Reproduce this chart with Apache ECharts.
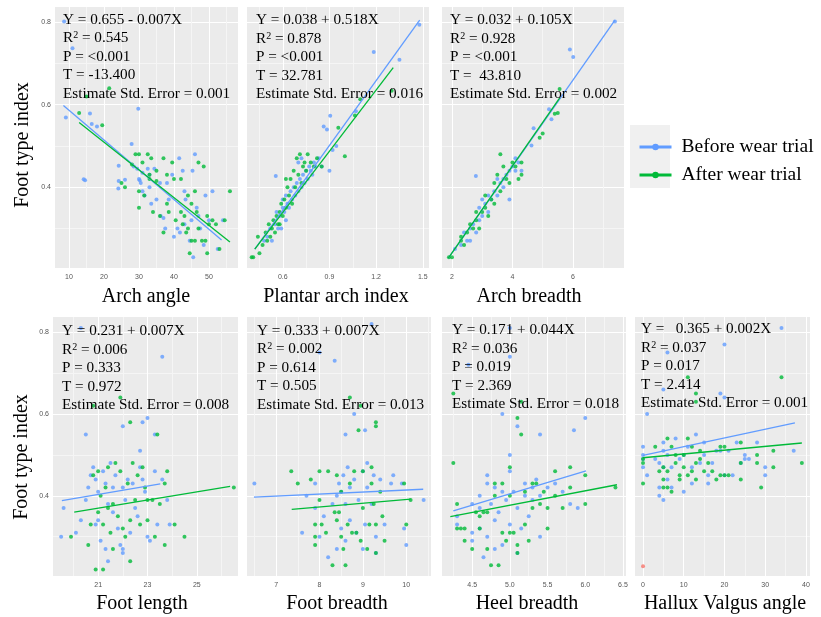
<!DOCTYPE html>
<html>
<head>
<meta charset="utf-8">
<title>Foot type index</title>
<script src="https://cdn.jsdelivr.net/npm/echarts@6/dist/echarts.min.js"></script>
<style>
html,body{margin:0;padding:0;background:#fff}
#main{width:821px;height:617px}
</style>
</head>
<body>
<div id="main"></div>
<script>
// ---- data ----
var archAngleBefore = [[8.6,0.802],[11,0.737],[9.1,0.569],[16,0.579],[16.5,0.553],[18,0.547],[29.8,0.59],[27.9,0.505],[14.2,0.419],[14.6,0.417],[24.2,0.452],[24.2,0.415],[24.1,0.397],[26,0.418],[28.5,0.45],[29.5,0.445],[30.2,0.417],[30.5,0.41],[31,0.435],[31.6,0.38],[32.5,0.445],[33,0.4],[33.5,0.36],[34.4,0.445],[35,0.37],[36,0.41],[36.2,0.33],[37,0.325],[37.5,0.3],[38.5,0.37],[39.5,0.43],[40,0.28],[41.5,0.47],[41.7,0.29],[42.5,0.44],[43,0.39],[43.3,0.37],[44.5,0.27],[45,0.32],[45.3,0.44],[45.5,0.23],[46,0.48],[46.5,0.35],[47.5,0.3],[48.5,0.26],[49,0.38],[50,0.32],[51,0.39],[52.5,0.25],[54,0.32],[31,0.39],[33,0.43],[30,0.42],[43,0.31],[47,0.33],[41,0.3],[38,0.41]];
var archAngleAfter = [[12.9,0.58],[19.5,0.55],[21.5,0.64],[15,0.62],[25,0.41],[26,0.4],[28,0.455],[29,0.48],[30,0.48],[30,0.39],[30,0.35],[31,0.46],[31.5,0.38],[32.5,0.48],[33,0.43],[33.5,0.47],[34,0.34],[35,0.415],[36,0.33],[37,0.47],[37,0.29],[38,0.43],[38.5,0.34],[39.5,0.46],[40,0.42],[40.5,0.32],[42,0.42],[42,0.34],[42.5,0.31],[43,0.33],[43.5,0.29],[44,0.38],[44.5,0.24],[45,0.36],[45,0.27],[46,0.39],[46.5,0.34],[47,0.46],[47,0.3],[48,0.27],[48.5,0.45],[49,0.27],[49.5,0.33],[49.5,0.24],[50,0.31],[51,0.32],[52,0.31],[53,0.25],[54.5,0.32],[56,0.39],[44,0.3],[46,0.27],[38,0.36],[33,0.42],[35,0.44]];
var archAngleFitBefore = [[8.4,0.598],[53.6,0.272]];
var archAngleFitAfter = [[12.9,0.557],[56,0.267]];

var plantarBefore = [[1.478,0.794],[1.185,0.728],[1.35,0.709],[0.905,0.573],[0.863,0.547],[0.884,0.54],[0.944,0.5],[0.555,0.427],[1.07,0.584],[0.48,0.27],[0.5,0.28],[0.52,0.3],[0.53,0.27],[0.55,0.31],[0.57,0.3],[0.58,0.33],[0.6,0.35],[0.6,0.37],[0.61,0.34],[0.62,0.32],[0.62,0.38],[0.63,0.36],[0.64,0.35],[0.65,0.39],[0.66,0.37],[0.67,0.4],[0.68,0.38],[0.69,0.41],[0.7,0.39],[0.71,0.42],[0.72,0.4],[0.73,0.43],[0.74,0.41],[0.75,0.44],[0.76,0.42],[0.77,0.45],[0.78,0.44],[0.79,0.43],[0.8,0.46],[0.81,0.45],[0.83,0.47],[0.85,0.45],[0.9,0.44],[0.92,0.49],[0.7,0.46],[0.72,0.47],[0.56,0.34],[0.59,0.3]];
var plantarAfter = [[0.4,0.23],[0.41,0.23],[0.45,0.24],[0.44,0.28],[0.47,0.26],[0.49,0.29],[0.5,0.27],[0.51,0.31],[0.52,0.28],[0.53,0.3],[0.54,0.32],[0.55,0.29],[0.56,0.33],[0.57,0.31],[0.58,0.34],[0.59,0.36],[0.6,0.33],[0.61,0.37],[0.62,0.35],[0.63,0.4],[0.64,0.38],[0.65,0.42],[0.66,0.36],[0.67,0.44],[0.68,0.4],[0.69,0.47],[0.7,0.43],[0.71,0.48],[0.72,0.41],[0.73,0.45],[0.74,0.46],[0.75,0.44],[0.76,0.48],[0.78,0.46],[0.8,0.45],[0.82,0.47],[0.85,0.45],[0.957,0.544],[0.999,0.475],[1.064,0.574],[1.098,0.613],[1.3,0.634],[0.62,0.42],[0.58,0.31]];
var plantarFitBefore = [[0.42,0.25],[1.48,0.805]];
var plantarFitAfter = [[0.42,0.25],[1.31,0.69]];

var archBreadthBefore = [[7.39,0.802],[5.9,0.734],[6.01,0.716],[5.21,0.589],[5.29,0.565],[4.7,0.543],[4.63,0.501],[2.79,0.427],[2.1,0.25],[2.3,0.26],[2.4,0.29],[2.5,0.27],[2.6,0.3],[2.7,0.31],[2.8,0.29],[2.9,0.32],[2.9,0.35],[3.0,0.33],[3.1,0.36],[3.2,0.34],[3.2,0.38],[3.3,0.37],[3.4,0.39],[3.5,0.38],[3.6,0.41],[3.7,0.42],[3.7,0.4],[3.8,0.43],[3.9,0.44],[4.0,0.45],[4.1,0.47],[4.1,0.44],[4.2,0.46],[4.3,0.44],[3.5,0.42],[3.9,0.37],[2.6,0.27],[3.0,0.37]];
var archBreadthAfter = [[1.9,0.23],[2.0,0.23],[2.3,0.27],[2.3,0.28],[2.4,0.26],[2.5,0.29],[2.6,0.31],[2.7,0.3],[2.8,0.32],[2.9,0.3],[3.0,0.34],[3.1,0.35],[3.2,0.33],[3.3,0.37],[3.4,0.36],[3.4,0.41],[3.5,0.43],[3.6,0.39],[3.7,0.45],[3.8,0.42],[3.9,0.41],[4.0,0.46],[4.1,0.45],[4.2,0.42],[4.3,0.46],[3.6,0.48],[3.1,0.38],[2.8,0.34],[4.9,0.52],[5.0,0.53],[5.4,0.578],[5.56,0.638],[5.5,0.58],[4.3,0.43]];
var archBreadthFitBefore = [[1.88,0.228],[7.39,0.805]];
var archBreadthFitAfter = [[1.88,0.228],[5.57,0.617]];

var footLengthBefore = [[19.5,0.3],[19.6,0.37],[20.1,0.31],[20.3,0.34],[20.5,0.39],[20.6,0.42],[20.7,0.45],[20.8,0.47],[20.9,0.44],[20.9,0.33],[21.0,0.41],[21.0,0.34],[21.1,0.29],[21.2,0.46],[21.3,0.43],[21.3,0.27],[21.4,0.38],[21.5,0.48],[21.6,0.42],[21.6,0.36],[21.7,0.45],[21.8,0.32],[21.9,0.28],[22.0,0.42],[22.0,0.26],[22.1,0.39],[22.2,0.44],[22.3,0.31],[22.4,0.43],[22.5,0.37],[22.6,0.35],[22.7,0.47],[22.8,0.44],[22.9,0.41],[23.0,0.3],[23.1,0.29],[23.3,0.46],[23.4,0.33],[23.6,0.44],[23.8,0.39],[23.9,0.33],[20.5,0.55],[22.0,0.57],[22.8,0.58],[23.0,0.59],[23.3,0.55],[22.7,0.51],[23.6,0.74],[20.3,0.81],[21.4,0.24],[22.0,0.27]];
var footLengthAfter = [[19.9,0.3],[20.6,0.28],[20.7,0.33],[20.8,0.45],[20.9,0.22],[21.0,0.36],[21.0,0.46],[21.1,0.4],[21.2,0.22],[21.2,0.33],[21.3,0.42],[21.4,0.37],[21.4,0.47],[21.5,0.31],[21.6,0.38],[21.6,0.27],[21.7,0.48],[21.8,0.35],[21.9,0.46],[22.0,0.32],[22.1,0.3],[22.2,0.43],[22.3,0.34],[22.3,0.24],[22.4,0.48],[22.5,0.39],[22.6,0.45],[22.7,0.33],[22.8,0.47],[22.9,0.42],[23.0,0.34],[23.0,0.39],[23.2,0.39],[23.3,0.3],[23.5,0.38],[23.7,0.43],[23.8,0.46],[23.7,0.28],[24.1,0.33],[24.5,0.3],[26.5,0.42],[22.3,0.58],[23.4,0.55],[21.9,0.64],[20.8,0.62]];
var footLengthFitBefore = [[19.53,0.388],[23.52,0.429]];
var footLengthFitAfter = [[20.03,0.36],[26.35,0.423]];

var footBreadthBefore = [[6.5,0.43],[7.6,0.31],[7.7,0.4],[7.9,0.37],[7.9,0.43],[8.0,0.3],[8.1,0.35],[8.2,0.25],[8.3,0.38],[8.4,0.4],[8.4,0.27],[8.45,0.43],[8.5,0.41],[8.5,0.32],[8.55,0.45],[8.6,0.38],[8.6,0.29],[8.65,0.47],[8.7,0.42],[8.7,0.34],[8.8,0.44],[8.85,0.31],[8.9,0.39],[9.0,0.46],[9.0,0.27],[9.05,0.33],[9.1,0.48],[9.1,0.42],[9.2,0.38],[9.25,0.45],[9.3,0.3],[9.3,0.26],[9.4,0.44],[9.5,0.33],[9.65,0.43],[9.7,0.45],[9.9,0.43],[9.95,0.32],[10.0,0.28],[10.4,0.39],[8.0,0.75],[8.35,0.73],[9.2,0.82],[8.8,0.6],[8.6,0.55],[9.05,0.56]];
var footBreadthAfter = [[7.35,0.46],[7.5,0.43],[7.8,0.44],[7.9,0.33],[7.9,0.3],[7.9,0.28],[8.0,0.46],[8.0,0.39],[8.05,0.33],[8.15,0.31],[8.2,0.46],[8.3,0.23],[8.35,0.36],[8.4,0.45],[8.4,0.34],[8.45,0.36],[8.5,0.41],[8.5,0.3],[8.55,0.27],[8.6,0.23],[8.65,0.33],[8.7,0.43],[8.75,0.31],[8.8,0.46],[8.85,0.31],[8.9,0.56],[8.95,0.29],[9.0,0.46],[9.0,0.37],[9.1,0.27],[9.15,0.33],[9.2,0.47],[9.2,0.43],[9.25,0.38],[9.3,0.58],[9.3,0.57],[9.3,0.33],[9.3,0.26],[9.4,0.41],[9.45,0.35],[9.5,0.29],[9.95,0.43],[10.0,0.33],[10.1,0.39],[8.7,0.64],[8.95,0.62]];
var footBreadthFitBefore = [[6.49,0.397],[10.39,0.416]];
var footBreadthFitAfter = [[7.36,0.367],[10.1,0.392]];

var heelBreadthBefore = [[4.3,0.35],[4.3,0.33],[4.5,0.38],[4.5,0.31],[4.5,0.29],[4.6,0.4],[4.6,0.37],[4.6,0.32],[4.65,0.25],[4.7,0.45],[4.7,0.43],[4.7,0.3],[4.75,0.38],[4.8,0.42],[4.8,0.34],[4.8,0.27],[4.85,0.36],[4.9,0.41],[4.9,0.28],[4.95,0.39],[5.0,0.5],[5.0,0.46],[5.0,0.33],[5.05,0.41],[5.1,0.37],[5.1,0.26],[5.15,0.32],[5.2,0.43],[5.2,0.4],[5.25,0.35],[5.3,0.42],[5.3,0.39],[5.35,0.44],[5.4,0.4],[5.4,0.3],[5.5,0.42],[5.6,0.43],[5.7,0.41],[5.8,0.38],[5.85,0.56],[5.9,0.37],[6.0,0.59],[5.4,0.55],[5.1,0.57],[4.9,0.6],[4.45,0.72],[5.0,0.74],[5.0,0.81]];
var heelBreadthAfter = [[4.25,0.48],[4.25,0.65],[4.3,0.38],[4.3,0.32],[4.35,0.32],[4.4,0.32],[4.4,0.29],[4.5,0.27],[4.55,0.36],[4.6,0.35],[4.6,0.32],[4.65,0.36],[4.7,0.27],[4.7,0.36],[4.75,0.23],[4.8,0.43],[4.8,0.4],[4.85,0.23],[4.9,0.31],[4.9,0.43],[4.95,0.29],[5.0,0.47],[5.0,0.4],[5.0,0.31],[5.05,0.31],[5.1,0.28],[5.1,0.26],[5.1,0.59],[5.15,0.55],[5.2,0.41],[5.2,0.33],[5.25,0.29],[5.3,0.43],[5.3,0.37],[5.35,0.43],[5.4,0.38],[5.45,0.41],[5.5,0.37],[5.5,0.32],[5.6,0.4],[5.6,0.46],[5.7,0.37],[5.8,0.47],[5.8,0.42],[6.0,0.45],[6.0,0.38],[6.4,0.42],[5.15,0.63]];
var heelBreadthFitBefore = [[4.25,0.363],[6.01,0.461]];
var heelBreadthFitAfter = [[4.21,0.349],[6.42,0.427]];

var halluxBefore = [[0,0.52],[0,0.5],[0,0.49],[0,0.47],[1,0.45],[3,0.49],[4,0.48],[4,0.42],[4,0.4],[5,0.53],[5,0.51],[5,0.47],[5,0.39],[6,0.44],[6,0.5],[7,0.47],[7,0.42],[8,0.54],[9,0.49],[10,0.5],[10,0.41],[11,0.52],[12,0.47],[12,0.43],[13,0.55],[14,0.48],[15,0.53],[15,0.5],[16,0.45],[16,0.43],[17,0.48],[18,0.51],[19,0.51],[20,0.45],[21,0.51],[22,0.45],[23,0.53],[24,0.48],[25,0.5],[25,0.49],[26,0.49],[28,0.53],[30,0.47],[30,0.45],[37,0.51],[1,0.6],[5,0.66],[6,0.75],[19,0.65],[20,0.64],[20,0.77],[34,0.81]];
var halluxAfter = [[0,0.49],[0,0.48],[0,0.43],[3,0.52],[4,0.46],[5,0.47],[5,0.44],[5,0.42],[6,0.54],[6,0.46],[6,0.42],[7,0.52],[7,0.41],[8,0.5],[8,0.48],[9,0.45],[9,0.44],[10,0.5],[10,0.47],[11,0.54],[11,0.45],[12,0.52],[12,0.46],[13,0.48],[13,0.44],[14,0.51],[14,0.49],[15,0.46],[16,0.48],[17,0.46],[18,0.44],[19,0.52],[19,0.45],[20,0.52],[20,0.45],[21,0.45],[24,0.53],[24,0.48],[24,0.44],[28,0.48],[28,0.5],[29,0.42],[32,0.51],[32,0.47],[39,0.48],[11,0.69],[13,0.63],[13,0.65],[34,0.69]];
var halluxOther = [[0,0.228]];
var halluxFitBefore = [[0,0.499],[37.3,0.578]];
var halluxFitAfter = [[0,0.493],[39,0.529]];

// tick values
var yTicks = [0.3,0.4,0.5,0.6,0.7,0.8];
var yMajor = [0.4,0.6,0.8];

var FONT = '"Liberation Serif", "Times New Roman", serif';
var BLUE = '#619CFF', GREEN = '#00BA38', RED = '#F8766D';

var panels = [
	{title:'Arch angle', before:archAngleBefore, after:archAngleAfter, fitB:archAngleFitBefore, fitA:archAngleFitAfter,
	 stats:['Y = 0.655 - 0.007X','0.545','P = <0.001','T = -13.400','Estimate Std. Error = 0.001'],
	 xMin:6.0, xMax:58.3, xTicks:[10,15,20,25,30,35,40,45,50,55], xMajor:[10,20,30,40,50], dec:0,
	 grid:[55,7,183,261], text:[63,20], tpos:[146,297], yLab:true},
	{title:'Plantar arch index', before:plantarBefore, after:plantarAfter, fitB:plantarFitBefore, fitA:plantarFitAfter,
	 stats:['Y = 0.038 + 0.518X','0.878','P = <0.001','T = 32.781','Estimate Std. Error = 0.016'],
	 xMin:0.37, xMax:1.54, xTicks:[0.45,0.6,0.75,0.9,1.05,1.2,1.35,1.5], xMajor:[0.6,0.9,1.2,1.5], dec:1,
	 grid:[247,7,182,261], text:[256,20.5], tpos:[336,297]},
	{title:'Arch breadth', before:archBreadthBefore, after:archBreadthAfter, fitB:archBreadthFitBefore, fitA:archBreadthFitAfter,
	 stats:['Y = 0.032 + 0.105X','0.928','P = <0.001','T =  43.810','Estimate Std. Error = 0.002'],
	 xMin:1.67, xMax:7.69, xTicks:[2,3,4,5,6,7], xMajor:[2,4,6], dec:0,
	 grid:[442,7,182,261], text:[450,20.5], tpos:[529,297]},
	{title:'Foot length', before:footLengthBefore, after:footLengthAfter, fitB:footLengthFitBefore, fitA:footLengthFitAfter,
	 stats:['Y = 0.231 + 0.007X','0.006','P = 0.333','T = 0.972','Estimate Std. Error = 0.008'],
	 xMin:19.17, xMax:26.67, xTicks:[20,21,22,23,24,25,26], xMajor:[21,23,25], dec:0,
	 grid:[53,317,185,259], text:[62,331.5], tpos:[142,604], yLab:true},
	{title:'Foot breadth', before:footBreadthBefore, after:footBreadthAfter, fitB:footBreadthFitBefore, fitA:footBreadthFitAfter,
	 stats:['Y = 0.333 + 0.007X','0.002','P = 0.614','T = 0.505','Estimate Std. Error = 0.013'],
	 xMin:6.33, xMax:10.57, xTicks:[6.5,7,7.5,8,8.5,9,9.5,10,10.5], xMajor:[7,8,9,10], dec:0,
	 grid:[247,317,184,259], text:[257,331], tpos:[337,604]},
	{title:'Heel breadth', before:heelBreadthBefore, after:heelBreadthAfter, fitB:heelBreadthFitBefore, fitA:heelBreadthFitAfter,
	 stats:['Y = 0.171 + 0.044X','0.036','P = 0.019','T = 2.369','Estimate Std. Error = 0.018'],
	 xMin:4.10, xMax:6.54, xTicks:[4.25,4.5,4.75,5,5.25,5.5,5.75,6,6.25,6.5], xMajor:[4.5,5,5.5,6,6.5], dec:1,
	 grid:[442,317,184,259], text:[452,330.5], tpos:[527,604]},
	{title:'Hallux Valgus angle', before:halluxBefore, after:halluxAfter, other:halluxOther, fitB:halluxFitBefore, fitA:halluxFitAfter,
	 stats:['Y =   0.365 + 0.002X','0.037','P = 0.017','T = 2.414','Estimate Std. Error = 0.001'],
	 xMin:-1.97, xMax:41, xTicks:[0,5,10,15,20,25,30,35,40], xMajor:[0,10,20,30,40], dec:0,
	 grid:[635,317,175,259], text:[641,329.5], tpos:[725,604]}
];

function splitColors(ticks, major){
	// major lines white, minor ones a bit dimmer
	return major.indexOf(ticks[0]) >= 0 ? ['#ffffff','#f5f5f5'] : ['#f5f5f5','#ffffff'];
}

var grids = [], xAxes = [], yAxes = [], series = [], graphics = [];

panels.forEach(function(p, i){
	grids.push({left:p.grid[0], top:p.grid[1], width:p.grid[2], height:p.grid[3], show:true, backgroundColor:'#ebebeb', borderWidth:0});
	xAxes.push({
		type:'value', gridIndex:i, min:p.xMin, max:p.xMax,
		axisLine:{show:false}, axisTick:{show:false, customValues:p.xTicks},
		axisLabel:{customValues:p.xMajor, fontSize:7, color:'#555', margin:6, fontFamily:'Arial',
			formatter:function(v){ return Number(v).toFixed(p.dec); }},
		splitLine:{show:true, lineStyle:{color:splitColors(p.xTicks, p.xMajor), width:1}}
	});
	yAxes.push({
		type:'value', gridIndex:i, min:0.204, max:0.837,
		axisLine:{show:false}, axisTick:{show:false, customValues:yTicks},
		axisLabel:{show:!!p.yLab, customValues:yMajor, fontSize:7, color:'#555', margin:4, fontFamily:'Arial',
			formatter:function(v){ return Number(v).toFixed(1); }},
		splitLine:{show:true, lineStyle:{color:splitColors(yTicks, yMajor), width:1}}
	});
	series.push({type:'scatter', name:'before', xAxisIndex:i, yAxisIndex:i, data:p.before, symbolSize:4, itemStyle:{color:BLUE}, z:2, silent:true});
	series.push({type:'scatter', name:'after', xAxisIndex:i, yAxisIndex:i, data:p.after, symbolSize:4, itemStyle:{color:GREEN}, z:2, silent:true});
	if(p.other){
		series.push({type:'scatter', name:'other', xAxisIndex:i, yAxisIndex:i, data:p.other, symbolSize:4, itemStyle:{color:RED}, z:2, silent:true});
	}
	series.push({type:'line', name:'Before wear trial', xAxisIndex:i, yAxisIndex:i, data:p.fitB, showSymbol:false, symbol:'circle', symbolSize:6,
		itemStyle:{color:BLUE}, lineStyle:{color:BLUE, width:1.3}, z:3, silent:true});
	series.push({type:'line', name:'After wear trial', xAxisIndex:i, yAxisIndex:i, data:p.fitA, showSymbol:false, symbol:'circle', symbolSize:6,
		itemStyle:{color:GREEN}, lineStyle:{color:GREEN, width:1.3}, z:3, silent:true});

	// regression statistics
	p.stats.forEach(function(s, k){
		var txt = k == 1 ? 'R{s|2} = ' + s : s;
		graphics.push({type:'text', x:p.text[0], y:p.text[1] + k*18.5, z:100,
			style:{text:txt, fill:'#000', font:'15.2px ' + FONT, textAlign:'left', textVerticalAlign:'middle', align:'left', verticalAlign:'middle',
				rich:{s:{fontSize:10, fontFamily:FONT, fill:'#000', verticalAlign:'top', lineHeight:16}}}});
	});
	graphics.push({type:'text', x:p.tpos[0], y:p.tpos[1], z:100,
		style:{text:p.title, fill:'#000', font:'20px ' + FONT, textAlign:'center', textVerticalAlign:'middle', align:'center', verticalAlign:'middle'}});
});

// y titles
[[23,145],[22,457]].forEach(function(pos){
	graphics.push({type:'text', x:pos[0], y:pos[1], rotation:Math.PI/2, z:100,
		style:{text:'Foot type index', fill:'#000', font:'20px ' + FONT, textAlign:'center', textVerticalAlign:'middle', align:'center', verticalAlign:'middle'}});
});
// legend key background
graphics.push({type:'rect', z:0, shape:{x:630, y:125, width:40, height:63}, style:{fill:'#f0f0f0'}});

var chart = echarts.init(document.getElementById('main'), null, {renderer:'canvas'});
chart.setOption({
	backgroundColor:'#fff',
	animation:false,
	grid:grids,
	xAxis:xAxes,
	yAxis:yAxes,
	legend:{
		data:['Before wear trial','After wear trial'], orient:'vertical', left:633, top:132,
		itemWidth:32, itemHeight:8, itemGap:8, selectedMode:false, z:10,
		lineStyle:{width:3},
		textStyle:{fontFamily:FONT, fontSize:19.5, color:'#000', padding:[0,0,0,5]}
	},
	graphic:{elements:graphics},
	series:series
});
</script>
</body>
</html>
